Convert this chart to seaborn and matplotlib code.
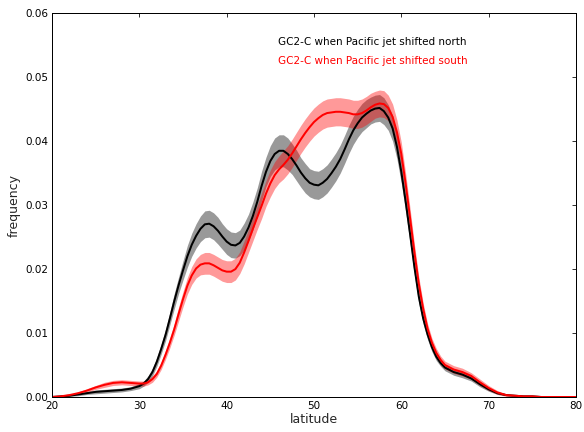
import numpy as np
import pandas as pd
import matplotlib
matplotlib.use("Agg")
import matplotlib.pyplot as plt
import seaborn as sns

# latitude samples (degrees)
latitude = [20, 21, 22, 23, 24, 25, 26, 27, 28, 29,
            30, 30.5, 31, 31.5, 32, 32.5, 33, 33.5, 34, 34.5,
            35, 35.5, 36, 36.5, 37, 37.5, 38, 38.5, 39, 39.5,
            40, 40.5, 41, 41.5, 42, 42.5, 43, 43.5, 44, 44.5,
            45, 45.5, 46, 46.5, 47, 47.5, 48, 48.5, 49, 49.5,
            50, 50.5, 51, 51.5, 52, 52.5, 53, 53.5, 54, 54.5,
            55, 55.5, 56, 56.5, 57, 57.5, 58, 58.5, 59, 59.5,
            60, 60.5, 61, 61.5, 62, 62.5, 63, 63.5, 64, 64.5,
            65,
            66, 67, 68, 69, 70, 71, 72, 73, 74, 75, 76, 77, 78, 79, 80]

# GC2-C when Pacific jet shifted north
north_freq = [0.0000, 0.0001, 0.0002, 0.0004, 0.0006, 0.0008, 0.0009, 0.0010, 0.0011, 0.0013,
              0.0017, 0.0021, 0.0028, 0.0039, 0.0055, 0.0075, 0.0097, 0.0123, 0.0150, 0.0175,
              0.0198, 0.0220, 0.0238, 0.0252, 0.0263, 0.0270, 0.0271, 0.0267, 0.0260, 0.0251,
              0.0243, 0.0238, 0.0237, 0.0241, 0.0251, 0.0265, 0.0283, 0.0305, 0.0330, 0.0352,
              0.0369, 0.0380, 0.0385, 0.0385, 0.0380, 0.0372, 0.0362, 0.0351, 0.0342, 0.0335,
              0.0332, 0.0331, 0.0335, 0.0341, 0.0350, 0.0360, 0.0372, 0.0387, 0.0403, 0.0417,
              0.0428, 0.0437, 0.0443, 0.0448, 0.0451, 0.0452, 0.0447, 0.0437, 0.0420, 0.0391,
              0.0352, 0.0305, 0.0255, 0.0203, 0.0157, 0.0123, 0.0098, 0.0078, 0.0063, 0.0053,
              0.0046,
              0.0039, 0.0035, 0.0029, 0.0020, 0.0012, 0.0006, 0.0003, 0.0002, 0.0001, 0.0001,
              0.0000, 0.0000, 0.0000, 0.0000, 0.0000]
north_err = [0.0000, 0.0001, 0.0001, 0.0002, 0.0002, 0.0003, 0.0003, 0.0003, 0.0003, 0.0003,
             0.0004, 0.0004, 0.0005, 0.0006, 0.0007, 0.0008, 0.0009, 0.0010, 0.0012, 0.0013,
             0.0015, 0.0017, 0.0018, 0.0019, 0.0020, 0.0021, 0.0021, 0.0021, 0.0021, 0.0020,
             0.0020, 0.0020, 0.0020, 0.0020, 0.0021, 0.0021, 0.0022, 0.0022, 0.0023, 0.0023,
             0.0024, 0.0025, 0.0025, 0.0025, 0.0025, 0.0024, 0.0024, 0.0023, 0.0023, 0.0022,
             0.0022, 0.0022, 0.0022, 0.0022, 0.0022, 0.0022, 0.0022, 0.0022, 0.0022, 0.0022,
             0.0022, 0.0022, 0.0022, 0.0021, 0.0021, 0.0021, 0.0021, 0.0020, 0.0020, 0.0019,
             0.0018, 0.0016, 0.0015, 0.0013, 0.0011, 0.0009, 0.0008, 0.0007, 0.0006, 0.0005,
             0.0005,
             0.0005, 0.0005, 0.0004, 0.0004, 0.0003, 0.0002, 0.0001, 0.0001, 0.0000, 0.0000,
             0.0000, 0.0000, 0.0000, 0.0000, 0.0000]

# GC2-C when Pacific jet shifted south
south_freq = [0.0000, 0.0001, 0.0003, 0.0006, 0.0010, 0.0015, 0.0019, 0.0022, 0.0023, 0.0022,
              0.0021, 0.0021, 0.0023, 0.0028, 0.0036, 0.0049, 0.0066, 0.0085, 0.0106, 0.0130,
              0.0153, 0.0174, 0.0190, 0.0201, 0.0207, 0.0209, 0.0209, 0.0206, 0.0202, 0.0198,
              0.0196, 0.0196, 0.0200, 0.0210, 0.0226, 0.0244, 0.0263, 0.0281, 0.0299, 0.0318,
              0.0334, 0.0347, 0.0356, 0.0363, 0.0371, 0.0381, 0.0392, 0.0403, 0.0413, 0.0422,
              0.0430, 0.0436, 0.0441, 0.0444, 0.0445, 0.0446, 0.0446, 0.0445, 0.0444, 0.0442,
              0.0442, 0.0444, 0.0448, 0.0453, 0.0457, 0.0459, 0.0458, 0.0452, 0.0438, 0.0414,
              0.0380, 0.0333, 0.0280, 0.0226, 0.0177, 0.0138, 0.0107, 0.0085, 0.0069, 0.0058,
              0.0050,
              0.0043, 0.0039, 0.0033, 0.0023, 0.0014, 0.0007, 0.0003, 0.0002, 0.0001, 0.0001,
              0.0000, 0.0000, 0.0000, 0.0000, 0.0000]
south_err = [0.0000, 0.0001, 0.0001, 0.0002, 0.0003, 0.0003, 0.0004, 0.0004, 0.0004, 0.0004,
             0.0004, 0.0004, 0.0004, 0.0005, 0.0005, 0.0006, 0.0007, 0.0008, 0.0009, 0.0011,
             0.0012, 0.0013, 0.0014, 0.0015, 0.0016, 0.0017, 0.0017, 0.0017, 0.0017, 0.0017,
             0.0017, 0.0017, 0.0017, 0.0017, 0.0018, 0.0018, 0.0019, 0.0019, 0.0020, 0.0020,
             0.0021, 0.0021, 0.0021, 0.0022, 0.0022, 0.0022, 0.0022, 0.0022, 0.0022, 0.0022,
             0.0022, 0.0022, 0.0022, 0.0022, 0.0022, 0.0022, 0.0022, 0.0022, 0.0022, 0.0022,
             0.0022, 0.0022, 0.0022, 0.0022, 0.0021, 0.0021, 0.0021, 0.0020, 0.0020, 0.0019,
             0.0018, 0.0016, 0.0015, 0.0013, 0.0011, 0.0009, 0.0008, 0.0007, 0.0007, 0.0006,
             0.0006,
             0.0006, 0.0006, 0.0005, 0.0005, 0.0004, 0.0003, 0.0002, 0.0001, 0.0000, 0.0000,
             0.0000, 0.0000, 0.0000, 0.0000, 0.0000]

labels = ["GC2-C when Pacific jet shifted north", "GC2-C when Pacific jet shifted south"]
colors = ["black", "red"]
x_ticks = [20, 30, 40, 50, 60, 70, 80]
y_ticks = [0.00, 0.01, 0.02, 0.03, 0.04, 0.05, 0.06]

sns.set_style("white")
plt.rcParams["font.family"] = ["DejaVu Sans"]

fig = plt.figure(figsize=(584 / 72, 432 / 72), dpi=72)
ax = fig.add_axes([52 / 584, 1 - 397 / 432, (576 - 52) / 584, (397 - 13.3) / 432])

series = [(north_freq, north_err), (south_freq, south_err)]
lat = np.array(latitude, dtype=float)
for (f, e), c in zip(series, colors):
    f = np.array(f); e = np.array(e)
    ax.fill_between(lat, f - e, f + e, color=c, alpha=0.4, linewidth=0)

for (f, e), c in zip(series, colors):
    df = pd.DataFrame({"latitude": latitude, "frequency": f})
    sns.lineplot(data=df, x="latitude", y="frequency", color=c, linewidth=2, ax=ax)

ax.set_xlim(20, 80)
ax.set_ylim(0, 0.06)
ax.set_xticks(x_ticks)
ax.set_yticks(y_ticks)
ax.set_yticklabels([f"{v:.2f}" for v in y_ticks])
ax.tick_params(direction="in", length=4, width=0.8, top=True, right=True,
               labelsize=10.4, colors="black", pad=4)
for s in ax.spines.values():
    s.set_color("black")
    s.set_linewidth(1.0)
ax.set_xlabel("latitude", fontsize=12.5, labelpad=2)
ax.set_ylabel("frequency", fontsize=12.5)

ax.text(45.9, 0.0555, labels[0], color=colors[0], fontsize=10.4, va="center", ha="left")
ax.text(45.9, 0.0525, labels[1], color=colors[1], fontsize=10.4, va="center", ha="left")

fig.savefig("out.png", dpi=72)
